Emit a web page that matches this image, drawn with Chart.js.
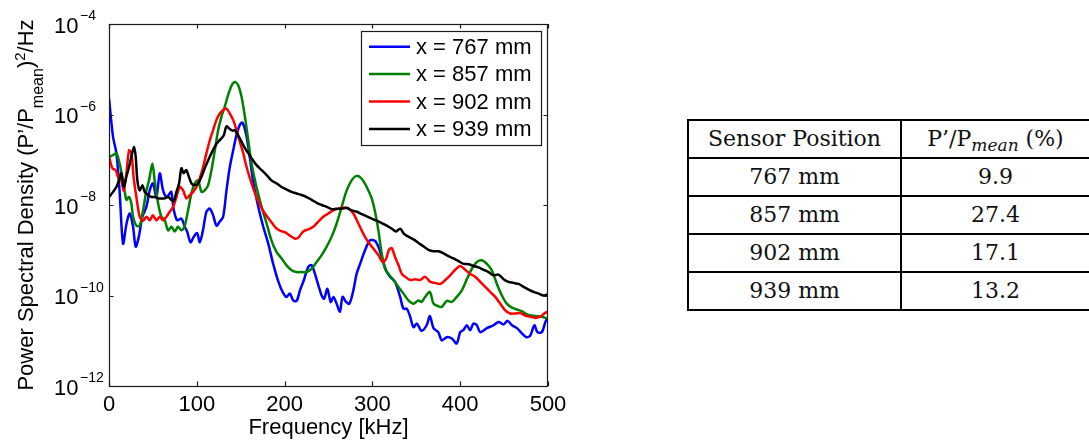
<!DOCTYPE html>
<html><head><meta charset="utf-8">
<script src="https://cdn.jsdelivr.net/npm/chart.js@4.4.0/dist/chart.umd.min.js"></script>
<style>
html,body{margin:0;padding:0;background:#fff;width:1089px;height:442px;overflow:hidden;}
#wrap{position:absolute;left:0;top:0;width:580px;height:442px;}
table{position:absolute;left:687px;top:119px;border-collapse:collapse;font-family:"DejaVu Serif",serif;font-size:22px;color:#111;table-layout:fixed;width:402px;}
td{border:2px solid #000;text-align:center;padding:0;height:36px;line-height:36px;white-space:nowrap;}
.sub{font-style:italic;font-size:17px;vertical-align:-5px;line-height:0;}
</style></head><body>
<div id="wrap"><canvas id="c" width="580" height="442"></canvas></div>
<table id="tbl">
<colgroup><col style="width:213px"><col style="width:189px"></colgroup>
<tbody id="tbody"></tbody>
</table>
<script>
// ---- data ----
const seriesLabels = ['x = 767 mm', 'x = 857 mm', 'x = 902 mm', 'x = 939 mm'];
const seriesColors = ['#0000ff', '#008000', '#ff0000', '#000000'];
const xTickValues = [0, 100, 200, 300, 400, 500];
const yTickValues = [1e-12, 1e-10, 1e-8, 1e-6, 1e-4];

const freq767 = [0,4.6,8.4,12,16,20,23.6,27.4,30.4,34,38,42.6,46.4,50,54,57.8,61.6,65.4,69.2,71,73.8,77.6,82.5,86.3,89,92.8,96.6,100.4,103.4,107,111,114.8,118.6,122.4,126.2,130,133.8,137.6,141.4,145.2,149,152,156,159.7,164,170,175.7,181.4,187,193,197.7,202,206,209.8,213.7,217.5,222,227,230.8,234.6,238.4,242.2,245,248.7,252.5,255.5,259.3,263,266,270,273.8,278.3,282,286,291.6,297.3,303,306.8,310.6,315.6,320,325.8,331.6,335.4,339.2,343,346.8,350.6,356,361.8,365.5,369.6,375,379,384.8,390.5,396,400,403.8,407.6,411.4,415,419,422.8,430.4,438,443.7,449.4,454,459,464.6,470.3,475.3,479.8,484.4,488,493,497,499];
const psd767 = [2.3e-6,3.2e-7,1.4e-7,2.1e-8,1.4e-9,3.9e-9,6.5e-9,3.3e-9,1.2e-9,2.0e-9,5.5e-9,9.1e-9,2.1e-8,3.0e-8,1.5e-8,5.0e-8,2.1e-8,1.5e-8,1.8e-8,1.95e-8,7.8e-9,4.6e-9,5.0e-9,3.3e-9,2.6e-9,1.5e-9,2.0e-9,2.4e-9,1.5e-9,2.75e-9,7.1e-9,8.3e-9,5.9e-9,3.5e-9,4.3e-9,5.5e-9,2.1e-8,6.9e-8,1.6e-7,3.5e-7,5.9e-7,6.6e-7,3.8e-7,1.4e-7,3.5e-8,9.1e-9,3.3e-9,1.4e-9,5.0e-10,2.0e-10,1.2e-10,9.3e-11,1.1e-10,7.8e-11,7.6e-11,1.3e-10,2.2e-10,4.3e-10,4.7e-10,3.0e-10,1.7e-10,1.0e-10,8.5e-11,1.4e-10,7.2e-11,9.3e-11,6.6e-11,4.4e-11,9.3e-11,7.2e-11,6.6e-11,1.3e-10,3.0e-10,5.0e-10,1.0e-9,1.66e-9,1.6e-9,1.2e-9,7.1e-10,3.6e-10,2.6e-10,2.0e-10,9.3e-11,5.1e-11,5.1e-11,3.4e-11,2.0e-11,2.4e-11,1.66e-11,2.2e-11,3.5e-11,1.9e-11,1.55e-11,1.02e-11,1.2e-11,1.12e-11,8.7e-12,1.55e-11,1.74e-11,2.2e-11,1.7e-11,2.4e-11,2.2e-11,1.55e-11,1.9e-11,2.2e-11,2.6e-11,2.3e-11,2.75e-11,2.2e-11,1.9e-11,1.45e-11,1.2e-11,1.3e-11,2.2e-11,1.55e-11,1.55e-11,2.6e-11,3.1e-11];

const freq857 = [0,4.6,8.4,12,16,19.8,22.8,25.5,27.4,31.2,35,38.8,42.6,45.6,49.4,52,56,59.7,63.5,67.3,71,74.9,78.7,82.5,86.3,90,93.9,97.7,101.5,105.3,109,112.9,116.7,120.5,124.3,128,131.9,135.7,139.5,143.3,147,151,154.8,158.6,162.4,168,173.8,179.5,185,190.9,196.6,202,208,213.7,219.4,225,230.8,236.5,242.2,247.9,253.6,259.3,265,270.7,276.4,282,287.8,293.5,299.2,303,306.8,310.6,314.4,319.4,324,329.7,335.4,341,346.8,352.5,356,360,365.5,369.6,375.3,379,384.8,390.5,396,401.9,407.6,413.3,419,424.7,430.4,436,441.8,447.5,453,459,464.6,470.3,476,481.7,487,493,499];
const psd857 = [1.17e-7,1.26e-7,1.4e-7,8.3e-8,3.5e-8,1.3e-8,1.5e-8,1.07e-8,5.5e-9,3.5e-9,3.5e-9,7.6e-9,2.1e-8,3.5e-8,8.3e-8,3.5e-8,1.07e-8,5.5e-9,4.6e-9,2.75e-9,3.3e-9,2.6e-9,3.3e-9,2.75e-9,3.5e-9,7.6e-9,1.8e-8,3.0e-8,3.5e-8,1.95e-8,2.1e-8,2.75e-8,5.9e-8,1.6e-7,4.5e-7,8.9e-7,1.5e-6,2.7e-6,4.3e-6,5.2e-6,4.5e-6,2.45e-6,8.9e-7,2.7e-7,8.3e-8,2.5e-8,9.1e-9,3.9e-9,1.66e-9,9.1e-10,6.6e-10,4.7e-10,3.6e-10,3.3e-10,3.3e-10,3.3e-10,3.9e-10,5.5e-10,7.8e-10,1.2e-9,2.0e-9,3.9e-9,9.1e-9,2.1e-8,3.5e-8,4.4e-8,3.8e-8,2.5e-8,1.4e-8,7.1e-9,2.75e-9,8.5e-10,3.9e-10,2.8e-10,2.2e-10,1.55e-10,1.1e-10,7.8e-11,6.6e-11,7.8e-11,7.2e-11,9.3e-11,1.2e-10,6.6e-11,5.75e-11,5.6e-11,7.6e-11,7.2e-11,9.3e-11,1.3e-10,2.3e-10,3.9e-10,5.5e-10,6.0e-10,5.0e-10,3.6e-10,1.8e-10,1.0e-10,6.6e-11,5.4e-11,4.9e-11,4.5e-11,3.8e-11,3.6e-11,3.5e-11,3.4e-11,3.1e-11];

const freq902 = [0,3.8,7.6,10.3,14,16.7,19.8,22.8,25.5,28,31.2,35,38.8,42.6,46.4,50,54,57.8,61.6,65.4,69.2,73,76.8,80.6,84.4,88.2,92,95.8,99.6,103.4,107.2,111,114.8,118.6,122.4,126.2,130,133.8,137.6,141.4,145.2,149,152.9,156.7,160.5,164.3,168,171.9,177.6,183.3,189,194.7,200.4,206,211.8,215.6,221.3,227,232.7,238.4,244,249.8,255.5,261.2,267,272.6,278.3,284,289.7,295.4,301,306.8,311.8,315.6,318.6,322,325.8,329.7,333.5,337.3,343,348.7,354.4,360,365.8,371.5,377.2,383,388.6,394.3,400,405.7,411.4,417,422.8,428.5,434.2,439.9,445.6,451.3,457,462.7,468.4,474,479.8,485.5,491.2,495,499];
const psd902 = [1.17e-7,6.5e-8,5.9e-8,4.2e-8,3.5e-8,2.1e-8,5.0e-8,1.6e-7,1.4e-7,4.2e-8,1.5e-8,5.5e-9,4.5e-9,5.5e-9,4.6e-9,5.9e-9,4.6e-9,5.5e-9,4.6e-9,5.5e-9,7.1e-9,9.1e-9,1.5e-8,2.5e-8,2.1e-8,1.4e-8,1.66e-8,1.95e-8,2.5e-8,3.9e-8,6.9e-8,1.4e-7,2.7e-7,4.5e-7,7.6e-7,1.05e-6,1.26e-6,1.35e-6,1.05e-6,7.6e-7,4.5e-7,2.5e-7,1.4e-7,6.9e-8,3.9e-8,2.3e-8,1.5e-8,1.0e-8,6.5e-9,4.6e-9,3.3e-9,2.7e-9,2.5e-9,2.1e-9,1.8e-9,1.9e-9,2.6e-9,2.9e-9,3.3e-9,4.3e-9,5.5e-9,6.5e-9,7.6e-9,8.3e-9,8.7e-9,8.3e-9,6.5e-9,3.9e-9,2.3e-9,1.5e-9,1.1e-9,7.8e-10,5.5e-10,6.5e-10,1.0e-9,1.12e-9,7.1e-10,4.7e-10,3.0e-10,2.6e-10,2.2e-10,2.3e-10,2.2e-10,2.6e-10,2.0e-10,1.9e-10,1.8e-10,2.2e-10,2.8e-10,3.7e-10,4.5e-10,3.7e-10,3.0e-10,2.6e-10,2.0e-10,1.55e-10,1.2e-10,9.3e-11,6.6e-11,4.7e-11,4.0e-11,4.0e-11,4.1e-11,3.6e-11,3.4e-11,3.2e-11,3.4e-11,3.9e-11,4.4e-11];

const freq939 = [0,4.6,8.4,11.4,14,16.7,19.8,22.8,25.5,28.5,30.4,32.3,35,38,40.7,44.5,48.3,52,55.9,59.7,63.5,67.3,71,73.8,76.8,79.8,82.5,85,88,91,94,97.7,101.5,105.3,109,113,116.7,120.5,124.3,128,130.8,133.8,136.9,140.7,143.3,147,151,154.8,158.6,162.4,168,173.8,179.5,185,190.9,196.6,202.3,208,213.7,219.4,225,230.8,236.5,242.2,247.9,253.6,259.3,265,270.7,276.4,282,287.8,293.5,299.2,304.9,310.6,316.3,322,327,331.6,336,341,346.8,352.5,358,363.9,369.6,375.3,381,386.7,392.4,398,403.8,409.5,415.2,420.9,426.6,432.3,438,443.7,449.4,455,460.8,466.5,472.2,477.9,483.6,489.4,495,499];
const psd939 = [1.5e-8,1.95e-8,2.5e-8,3.5e-8,5.0e-8,2.5e-8,4.2e-8,6.9e-8,1.17e-7,1.95e-7,1.17e-7,3.5e-8,2.1e-8,2.75e-8,1.95e-8,1.66e-8,1.5e-8,1.5e-8,1.4e-8,1.4e-8,1.4e-8,1.5e-8,1.3e-8,1.23e-8,1.95e-8,3.0e-8,6.5e-8,5.0e-8,5.9e-8,4.2e-8,3.0e-8,2.75e-8,3.0e-8,4.2e-8,6.5e-8,9.8e-8,1.4e-7,1.95e-7,2.5e-7,2.95e-7,3.5e-7,5.5e-7,4.9e-7,4.4e-7,4.5e-7,3.5e-7,2.5e-7,1.8e-7,1.4e-7,1.07e-7,7.6e-8,5.9e-8,4.6e-8,3.5e-8,3.0e-8,2.5e-8,2.2e-8,1.95e-8,1.8e-8,1.66e-8,1.5e-8,1.3e-8,1.12e-8,1.0e-8,9.1e-9,8.1e-9,8.3e-9,8.3e-9,8.7e-9,7.6e-9,7.1e-9,6.3e-9,5.6e-9,5.0e-9,4.5e-9,4.0e-9,3.5e-9,3.0e-9,2.6e-9,3.0e-9,2.3e-9,2.0e-9,1.74e-9,1.45e-9,1.23e-9,1.02e-9,9.5e-10,9.5e-10,8.5e-10,7.4e-10,6.6e-10,5.75e-10,5.0e-10,4.9e-10,4.5e-10,4.2e-10,3.7e-10,3.3e-10,2.8e-10,2.9e-10,2.3e-10,2.0e-10,1.9e-10,1.8e-10,1.55e-10,1.35e-10,1.2e-10,1.1e-10,1.0e-10,1.05e-10];

const tablePositions = ['767 mm', '857 mm', '902 mm', '939 mm'];
const tableRatios = ['9.9', '27.4', '17.1', '13.2'];

// ---- table ----
const tbody = document.getElementById('tbody');
let html = '<tr><td>Sensor Position</td><td>P’/P<span class="sub">mean</span> (%)</td></tr>';
tablePositions.forEach((p, i) => { html += '<tr><td>' + p + '</td><td>' + tableRatios[i] + '</td></tr>'; });
tbody.innerHTML = html;

// ---- chart ----
const freqs = [freq767, freq857, freq902, freq939];
const psds = [psd767, psd857, psd902, psd939];
const drawOrder = [4, 3, 2, 1];
const datasets = seriesLabels.map((lab, k) => ({
  label: lab,
  data: freqs[k].map((f, i) => ({ x: f, y: psds[k][i] })),
  borderColor: seriesColors[k],
  backgroundColor: seriesColors[k],
  borderWidth: 2.5,
  pointRadius: 0,
  tension: 0.3,
  fill: false,
  order: drawOrder[k]
}));

const FONT = '"Liberation Sans", Arial, sans-serif';
const frame = {
  id: 'frame',
  afterDraw(chart) {
    const ctx = chart.ctx, a = chart.chartArea;
    const xs = chart.scales.x, ys = chart.scales.y;
    ctx.save();
    // box
    ctx.strokeStyle = '#1a1a1a';
    ctx.lineWidth = 1.2;
    ctx.strokeRect(a.left + 0.5, a.top + 0.5, a.right - a.left - 1, a.bottom - a.top);
    // ticks
    const tl = 4.5;
    ctx.beginPath();
    xs.ticks.forEach(t => {
      const x = Math.round(xs.getPixelForValue(t.value)) + 0.5;
      ctx.moveTo(x, a.bottom); ctx.lineTo(x, a.bottom - tl);
      ctx.moveTo(x, a.top); ctx.lineTo(x, a.top + tl);
    });
    ys.ticks.forEach(t => {
      const y = Math.round(ys.getPixelForValue(t.value)) + 0.5;
      ctx.moveTo(a.left, y); ctx.lineTo(a.left + tl, y);
      ctx.moveTo(a.right, y); ctx.lineTo(a.right - tl, y);
    });
    ctx.stroke();
    // x tick labels
    ctx.fillStyle = '#000';
    ctx.font = '22px ' + FONT;
    ctx.textAlign = 'center';
    ctx.textBaseline = 'alphabetic';
    xs.ticks.forEach(t => {
      ctx.fillText(String(t.value), xs.getPixelForValue(t.value), a.bottom + 25);
    });
    // y tick labels 10^n
    ys.ticks.forEach(t => {
      const y = ys.getPixelForValue(t.value);
      const e = Math.round(Math.log10(t.value));
      ctx.textAlign = 'left';
      ctx.font = '22px ' + FONT;
      ctx.fillText('10', 54, y + 8.5);
      ctx.font = '14px ' + FONT;
      ctx.fillText('\u2212' + String(Math.abs(e)), 80, y - 4);
    });
    // x title
    ctx.font = '22px ' + FONT;
    ctx.textAlign = 'center';
    ctx.fillText('Frequency [kHz]', (a.left + a.right) / 2, 434);
    // y title with sub/superscripts
    const parts = [
      { t: 'Power Spectral Density (P\u2019/P', s: 22, dy: 0 },
      { t: 'mean', s: 16, dy: 10 },
      { t: ')', s: 22, dy: 0 },
      { t: '2', s: 15, dy: -8 },
      { t: '/Hz', s: 22, dy: 0 }
    ];
    let total = 0;
    parts.forEach(p => { ctx.font = p.s + 'px ' + FONT; p.w = ctx.measureText(p.t).width; total += p.w; });
    ctx.save();
    ctx.translate(33, (a.top + a.bottom) / 2);
    ctx.rotate(-Math.PI / 2);
    ctx.textAlign = 'left';
    let px = -total / 2;
    parts.forEach(p => { ctx.font = p.s + 'px ' + FONT; ctx.fillText(p.t, px, p.dy); px += p.w; });
    ctx.restore();
    // legend
    const lg = { x: 361, y: 31, w: 180, h: 114 };
    ctx.fillStyle = '#fff';
    ctx.fillRect(lg.x, lg.y, lg.w, lg.h);
    ctx.strokeStyle = '#1a1a1a';
    ctx.lineWidth = 1.2;
    ctx.strokeRect(lg.x + 0.5, lg.y + 0.5, lg.w, lg.h);
    chart.data.datasets.forEach((d, i) => {
      const ry = lg.y + 15.7 + i * 27.4;
      ctx.strokeStyle = d.borderColor;
      ctx.lineWidth = 2.5;
      ctx.beginPath(); ctx.moveTo(369, ry); ctx.lineTo(410, ry); ctx.stroke();
      ctx.fillStyle = '#000';
      ctx.font = '22px ' + FONT;
      ctx.textAlign = 'left';
      ctx.textBaseline = 'middle';
      ctx.fillText(d.label, 416, ry + 1);
    });
    ctx.restore();
  }
};

new Chart(document.getElementById('c'), {
  type: 'line',
  data: { datasets },
  options: {
    responsive: false,
    animation: false,
    events: [],
    layout: { padding: { left: 0, right: 32, top: 24, bottom: 0 } },
    plugins: { legend: { display: false }, tooltip: { enabled: false }, title: { display: false } },
    scales: {
      x: {
        type: 'linear', min: 0, max: 500,
        grid: { display: false }, border: { display: false },
        ticks: { display: false },
        afterBuildTicks: s => { s.ticks = xTickValues.map(v => ({ value: v })); },
        afterFit: s => { s.height = 56; }
      },
      y: {
        type: 'logarithmic', min: 1e-12, max: 1e-4,
        grid: { display: false }, border: { display: false },
        ticks: { display: false },
        afterBuildTicks: s => { s.ticks = yTickValues.map(v => ({ value: v })); },
        afterFit: s => { s.width = 109; }
      }
    }
  },
  plugins: [frame]
});
</script>
</body></html>
